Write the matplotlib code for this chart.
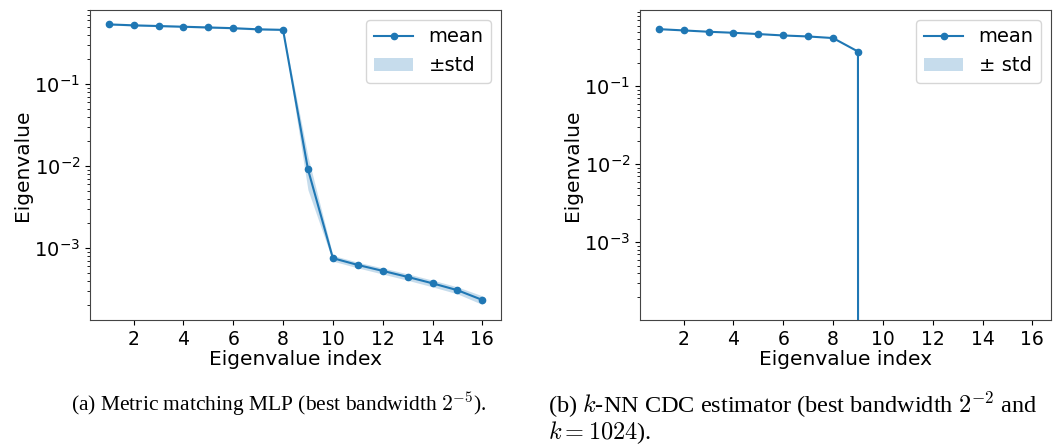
import matplotlib
matplotlib.use("Agg")
import matplotlib.pyplot as plt
import numpy as np

# eigenvalue spectra
idx = np.arange(1, 17)

mlp_mean = [0.534, 0.52, 0.51, 0.50, 0.49, 0.48, 0.465, 0.458,
            0.0091, 7.5e-4, 6.2e-4, 5.25e-4, 4.43e-4, 3.7e-4, 3.05e-4, 2.32e-4]
mlp_std = [0.01, 0.01, 0.01, 0.01, 0.01, 0.01, 0.01, 0.01,
           0.004, 6e-5, 5e-5, 4.5e-5, 4e-5, 3.5e-5, 3e-5, 2.8e-5]

knn_mean = [0.54, 0.52, 0.50, 0.485, 0.467, 0.448, 0.435, 0.415, 0.279,
            0, 0, 0, 0, 0, 0, 0]
knn_std = [0.004, 0.004, 0.004, 0.004, 0.004, 0.004, 0.004, 0.004, 0.004,
           0, 0, 0, 0, 0, 0, 0]

caption_a = r"(a) Metric matching MLP (best bandwidth $2^{-5}$)."
caption_b = ("(b) $k$-NN CDC estimator (best bandwidth $2^{-2}$ and\n"
             "$k = 1024$).")

plt.rcParams.update({
    "font.size": 14,
    "xtick.labelsize": 13.5,
    "ytick.labelsize": 14,
    "legend.fontsize": 14,
    "axes.labelsize": 14.5,
    "mathtext.fontset": "dejavusans",
})

W, H = 1053, 448
fig = plt.figure(figsize=(W / 100, H / 100), dpi=100)

panels = [
    (90, mlp_mean, mlp_std, "±std", (1.32e-4, 0.80)),
    (640, knn_mean, knn_std, "± std", (1.01e-4, 0.95)),
]

for left_px, mean, std, band_label, ylim in panels:
    ax = fig.add_axes([left_px / W, 1 - 320 / H, 411 / W, 310 / H])
    m = np.array(mean, dtype=float)
    s = np.array(std, dtype=float)
    ax.plot(idx, m, "-o", color="#1f77b4", lw=1.5, ms=4.5, label="mean")
    ax.fill_between(idx, m - s, m + s, color="#1f77b4", alpha=0.25,
                    lw=0, label=band_label)
    ax.set_yscale("log")
    ax.set_xlim(0.25, 16.75)
    ax.set_ylim(*ylim)
    ax.set_xticks([2, 4, 6, 8, 10, 12, 14, 16])
    ax.set_xlabel("Eigenvalue index", labelpad=1)
    ax.set_ylabel("Eigenvalue", labelpad=2)
    ax.legend(loc="upper right", handlelength=2.0)
    for sp in ax.spines.values():
        sp.set_color("#444444")

# captions under each panel (LaTeX-style serif)
cap_kw = dict(family="Liberation Serif", math_fontfamily="cm")
fig.text(487 / W, 1 - 411 / H, caption_a, ha="right", va="baseline",
         fontsize=15.5, **cap_kw)
fig.text(548 / W, 1 - 390 / H, caption_b, ha="left", va="top",
         fontsize=17.5, linespacing=0.95, multialignment="left", **cap_kw)

fig.savefig("out.png", dpi=100)
